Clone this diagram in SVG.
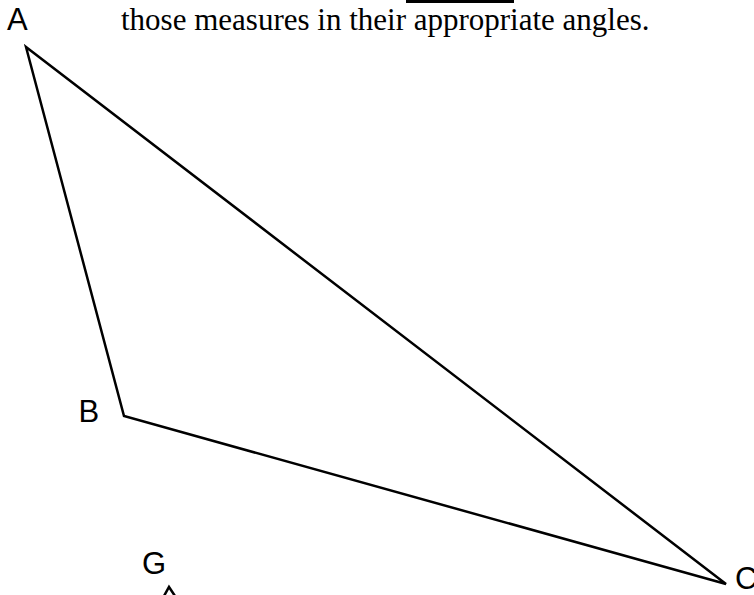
<svg xmlns="http://www.w3.org/2000/svg" width="754" height="595" viewBox="0 0 754 595">
<style>
.lbl{font-family:"Liberation Sans",Arial,sans-serif;font-size:31px;fill:#000}
.txt{font-family:"Liberation Serif","Times New Roman",serif;font-size:31px;fill:#000}
.edge{fill:none;stroke:#000;stroke-width:2.5;stroke-linejoin:miter}
</style>
<rect width="754" height="595" fill="#fff"/>
<rect x="406" y="0" width="108" height="3" fill="#000"/>
<text class="txt" x="121" y="30">those measures in their appropriate angles.</text>
<g id="connectors">
<polygon class="edge" points="26,47 124,416 726,584"/>
<polyline class="edge" points="164,596 169,587 175,596"/>
</g>
<g id="A"><text class="lbl" x="7" y="30">A</text></g>
<g id="B"><text class="lbl" x="78.5" y="422">B</text></g>
<g id="C"><text class="lbl" x="735" y="589">C</text></g>
<g id="G"><text class="lbl" x="142" y="574">G</text></g>
</svg>
